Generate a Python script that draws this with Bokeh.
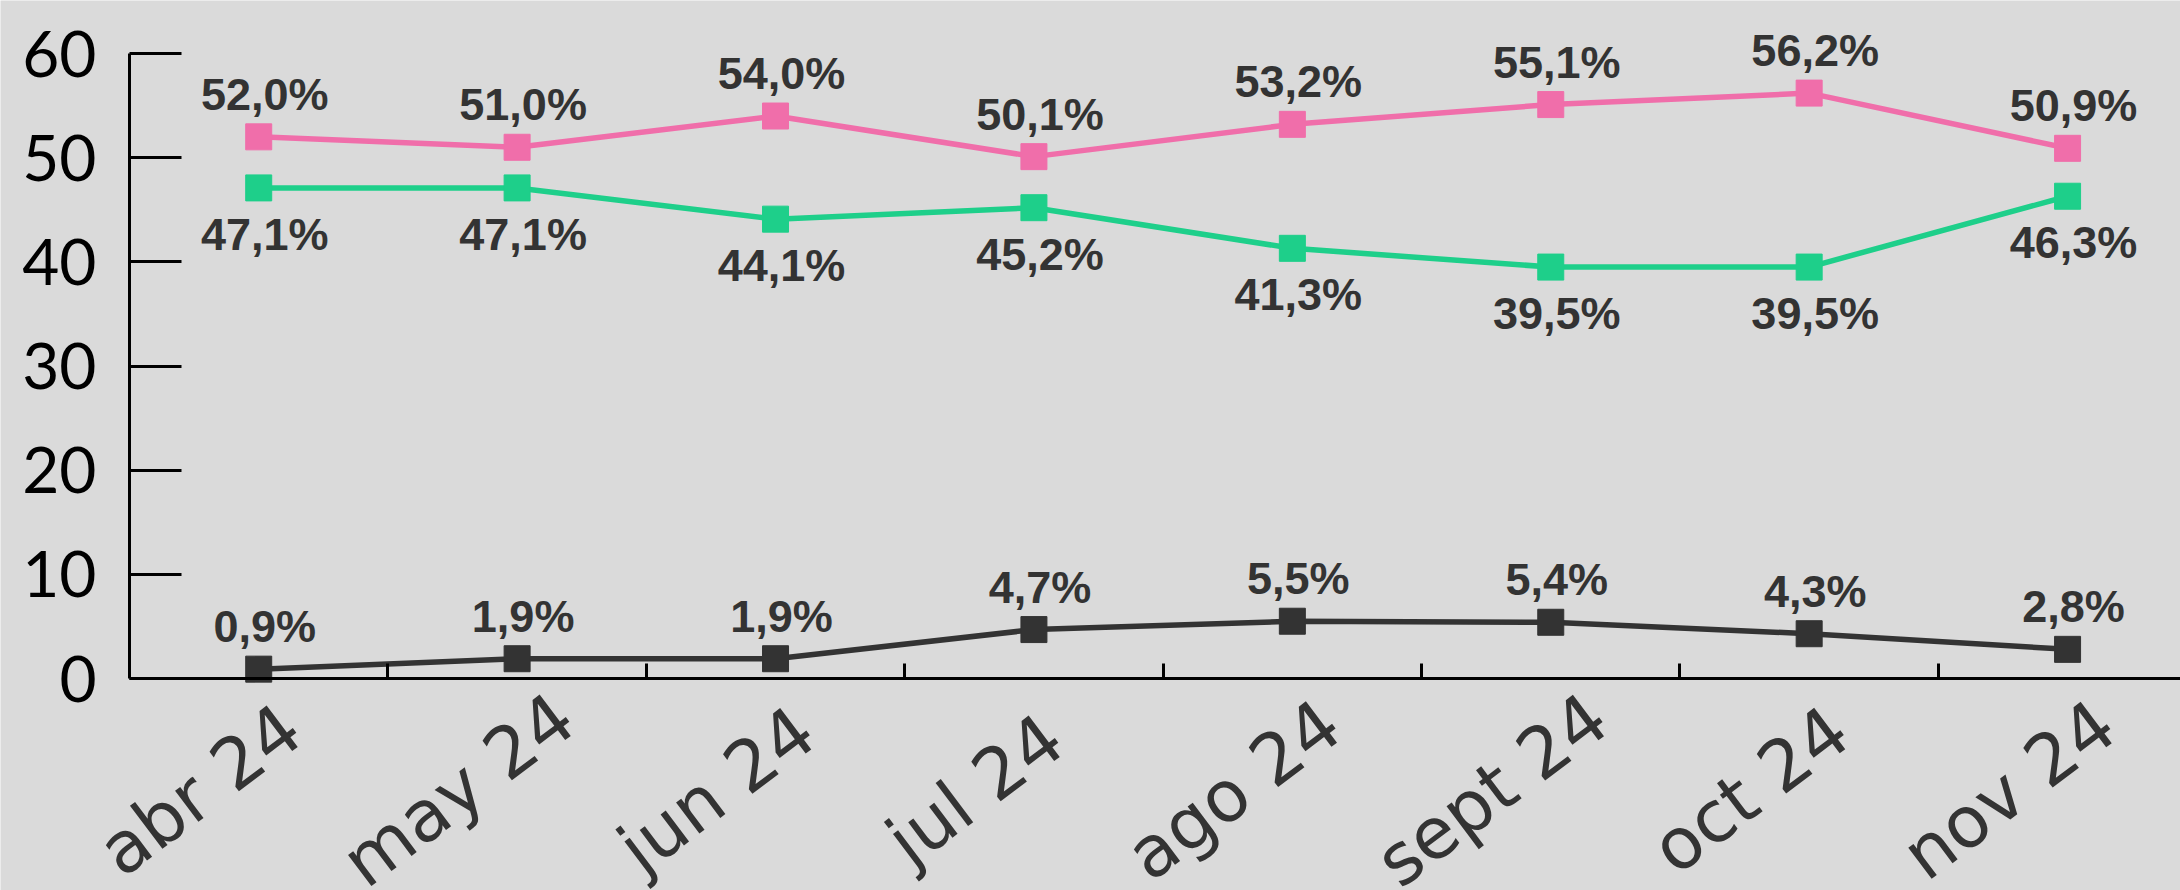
from bokeh.plotting import figure
from bokeh.models import ColumnDataSource, LabelSet, Range1d, FixedTicker
from bokeh.core.properties import value
from bokeh.embed import file_html
from bokeh.resources import INLINE
import math

categories = ["abr 24", "may 24", "jun 24", "jul 24", "ago 24", "sept 24", "oct 24", "nov 24"]
pink_vals = [52.0, 51.0, 54.0, 50.1, 53.2, 55.1, 56.2, 50.9]
green_vals = [47.1, 47.1, 44.1, 45.2, 41.3, 39.5, 39.5, 46.3]
dark_vals = [0.9, 1.9, 1.9, 4.7, 5.5, 5.4, 4.3, 2.8]
y_ticks = [0, 10, 20, 30, 40, 50, 60]

PINK = "#F06EAA"
GREEN = "#1ECF8A"
DARK = "#333333"
BG = "#DADADA"


def fmt(v):
    return f"{v:.1f}".replace(".", ",") + "%"


xs = list(range(len(categories)))
x_lo = xs[0] - 0.5

p = figure(width=2180, height=890, output_backend="svg", toolbar_location=None,
           x_range=Range1d(-0.9992, 7.437), y_range=Range1d(-20.35, 65.09),
           min_border_left=0, min_border_right=0, min_border_top=0, min_border_bottom=0)
p.background_fill_color = BG
p.border_fill_color = BG
p.outline_line_color = None
p.grid.visible = False

series = [(pink_vals, PINK, "above"), (green_vals, GREEN, "below"), (dark_vals, DARK, "above")]
for vals, col, pos in series:
    src = ColumnDataSource(dict(x=xs, y=vals, t=[fmt(v) for v in vals]))
    p.line("x", "y", source=src, line_color=col, line_width=5.5)
    p.scatter("x", "y", source=src, marker="square", size=26, fill_color=col, line_color=col)
    if pos == "above":
        baseline, yoff = "alphabetic", 27
    else:
        baseline, yoff = "top", -21
    lab = LabelSet(x="x", y="y", text="t", source=src, text_align="center",
                   text_baseline=baseline, x_offset=6, y_offset=yoff,
                   text_font=value("Liberation Sans"), text_font_style="bold",
                   text_font_size="45px", text_color=DARK)
    p.add_layout(lab)

# category labels below the axis, rotated
cat_src = ColumnDataSource(dict(x=xs, y=[0] * len(xs), t=categories))
cat_labels = LabelSet(x="x", y="y", text="t", source=cat_src, angle=math.radians(37),
                      text_align="center", text_baseline="alphabetic",
                      x_offset=-44, y_offset=-131,
                      text_font=value("DejaVu Sans"), text_font_size="71px", text_color=DARK)
p.add_layout(cat_labels)

# x axis, drawn at y = 0
xa = p.xaxis[0]
xa.fixed_location = 0
xa.bounds = (x_lo, 7.437)
xa.ticker = FixedTicker(ticks=[], minor_ticks=[i + 0.5 for i in xs[:-1]])
xa.major_tick_line_color = None
xa.minor_tick_in = 15
xa.minor_tick_out = 0
xa.minor_tick_line_width = 3
xa.minor_tick_line_color = "black"
xa.axis_line_width = 3
xa.axis_line_color = "black"

# y axis, drawn at the left edge of the first category
ya = p.yaxis[0]
ya.fixed_location = x_lo
ya.ticker = FixedTicker(ticks=y_ticks)
ya.bounds = (0, 60)
ya.major_tick_in = 52
ya.major_tick_out = 0
ya.major_tick_line_width = 3
ya.major_tick_line_color = "black"
ya.minor_tick_line_color = None
ya.axis_line_width = 3
ya.axis_line_color = "black"
ya.major_label_text_font = "Lato"
ya.major_label_text_font_size = "64px"
ya.major_label_text_color = "black"
ya.major_label_standoff = 33

open("out.html", "w").write(file_html(p, INLINE))
